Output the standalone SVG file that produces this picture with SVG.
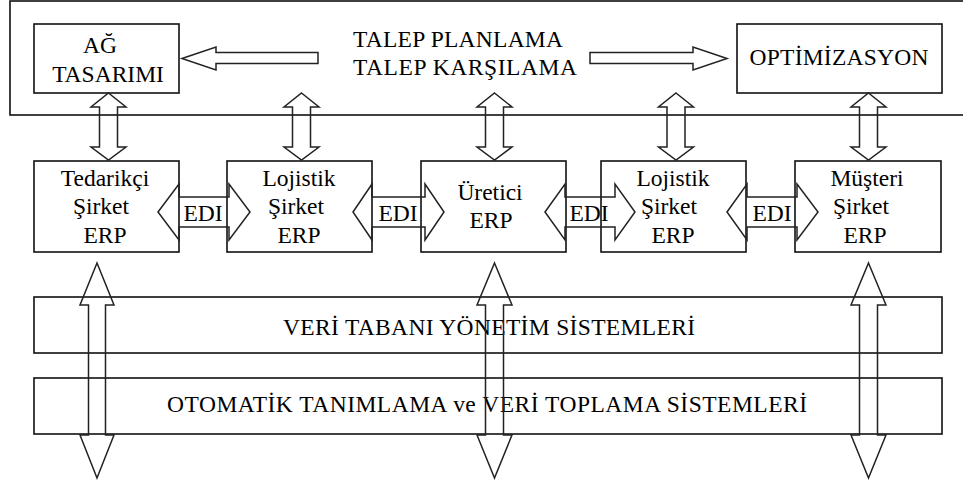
<svg xmlns="http://www.w3.org/2000/svg" width="963" height="486" viewBox="0 0 963 486">
<defs>
<style>
.box{fill:none;stroke:#111;stroke-width:1.6}
.arr{fill:none;stroke:#222;stroke-width:1.5;stroke-linejoin:miter}
.c{text-anchor:middle}
</style>
</defs>
<rect x="0" y="0" width="963" height="486" fill="#fff"/>
<g font-family="'Liberation Serif', 'Times New Roman', serif" font-size="23.5" fill="#000">
<g id="ust-cerceve">
<rect class="box" x="10" y="1" width="970" height="114"/>
<text x="353" y="47" textLength="210">TALEP PLANLAMA</text>
<text x="353" y="75" textLength="224">TALEP KARŞILAMA</text>
</g>
<g id="ag-tasarimi">
<rect class="box" x="34" y="24" width="145" height="69"/>
<text class="c" x="100" y="53">AĞ</text>
<text class="c" x="108" y="82">TASARIMI</text>
</g>
<g id="optimizasyon">
<rect class="box" x="737" y="24" width="205" height="69"/>
<text class="c" x="839" y="65" textLength="179">OPTİMİZASYON</text>
</g>
<g id="tedarikci">
<rect class="box" x="34" y="161" width="145" height="91"/>
<text class="c" x="105" y="186">Tedarikçi</text>
<text class="c" x="101" y="214">Şirket</text>
<text class="c" x="105" y="243">ERP</text>
</g>
<g id="lojistik1">
<rect class="box" x="227" y="161" width="145" height="91"/>
<text class="c" x="299" y="186">Lojistik</text>
<text class="c" x="296" y="214">Şirket</text>
<text class="c" x="299" y="243">ERP</text>
</g>
<g id="uretici">
<rect class="box" x="421" y="161" width="145" height="91"/>
<text class="c" x="490" y="200">Üretici</text>
<text class="c" x="491" y="228">ERP</text>
</g>
<g id="lojistik2">
<rect class="box" x="601" y="161" width="145" height="91"/>
<text class="c" x="673" y="186">Lojistik</text>
<text class="c" x="669" y="214">Şirket</text>
<text class="c" x="673" y="243">ERP</text>
</g>
<g id="musteri">
<rect class="box" x="795" y="161" width="146" height="91"/>
<text class="c" x="867" y="186">Müşteri</text>
<text class="c" x="861" y="214">Şirket</text>
<text class="c" x="865" y="243">ERP</text>
</g>
<g id="veri-tabani">
<rect class="box" x="34" y="297" width="908" height="56"/>
<text class="c" x="489" y="335" textLength="412">VERİ TABANI YÖNETİM SİSTEMLERİ</text>
</g>
<g id="otomatik">
<rect class="box" x="34" y="378" width="908" height="56"/>
<text class="c" x="487" y="412" textLength="640">OTOMATİK TANIMLAMA ve VERİ TOPLAMA SİSTEMLERİ</text>
</g>
<g id="connectors">
<polygon class="arr" points="182,58.5 216,47 216,52.5 318,52.5 318,63.5 216,63.5 216,70"/>
<polygon class="arr" points="727,58.5 693,47 693,52.5 590,52.5 590,63.5 693,63.5 693,70"/>
<polygon class="arr" points="108.5,93 126,107 117.5,107 117.5,147 126,147 108.5,160 91,147 99.5,147 99.5,107 91,107"/>
<polygon class="arr" points="301.5,93 319,107 310.5,107 310.5,147 319,147 301.5,160 284,147 292.5,147 292.5,107 284,107"/>
<polygon class="arr" points="494.5,93 512,107 503.5,107 503.5,147 512,147 494.5,160 477,147 485.5,147 485.5,107 477,107"/>
<polygon class="arr" points="676,93 693.5,107 685,107 685,147 693.5,147 676,160 658.5,147 667,147 667,107 658.5,107"/>
<polygon class="arr" points="868.5,93 886,107 877.5,107 877.5,147 886,147 868.5,160 851,147 859.5,147 859.5,107 851,107"/>
<polygon class="arr" points="97,263 114,305 105.5,305 105.5,435 114,435 97,478 80,435 88.5,435 88.5,305 80,305"/>
<polygon class="arr" points="494.5,263 512,305 503.5,305 503.5,435 512,435 494.5,478 477,435 485.5,435 485.5,305 477,305"/>
<polygon class="arr" points="868.5,263 886,305 877.5,305 877.5,435 886,435 868.5,478 851,435 859.5,435 859.5,305 851,305"/>
<polygon class="arr" points="158,212 179,184 179,197 229,197 229,184 250,212 229,240 229,227 179,227 179,240"/>
<polygon class="arr" points="353,212 372,184 372,197 425,197 425,184 444,212 425,240 425,227 372,227 372,240"/>
<polygon class="arr" points="545,212 565,184 565,197 615,197 615,184 635,212 615,240 615,227 565,227 565,240"/>
<polygon class="arr" points="727,212 747,184 747,197 797,197 797,184 818,212 797,240 797,227 747,227 747,240"/>
<text class="c" x="203" y="221">EDI</text>
<text class="c" x="398" y="221">EDI</text>
<text class="c" x="589" y="221">EDI</text>
<text class="c" x="772" y="221">EDI</text>
</g>
</g>
</svg>
